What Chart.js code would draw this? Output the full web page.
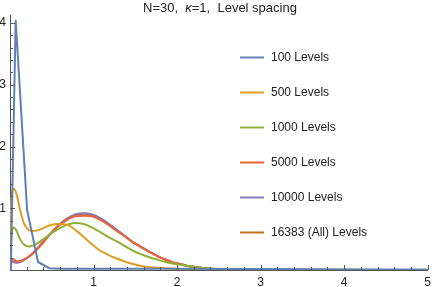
<!DOCTYPE html>
<html><head><meta charset="utf-8">
<script src="https://cdn.jsdelivr.net/npm/chart.js@4/dist/chart.umd.min.js"></script>
<style>html,body{margin:0;padding:0;background:#fff;}canvas{display:block;}</style>
</head><body>
<canvas id="c" width="436" height="287"></canvas>
<script>
const seriesLabels = ["100 Levels","500 Levels","1000 Levels","5000 Levels","10000 Levels","16383 (All) Levels"];
const seriesColors = ["#5E81B5","#E19C24","#8FB032","#EB6235","#8778B3","#C56E1A"];
const xTickLabels = ["1","2","3","4","5"];
const yTickLabels = ["1","2","3","4"];

const x100 = [0.01,0.068,0.205,0.336,0.47,0.6,1,2,3,4,5];
const y100 = [0.0,4.05,0.97,0.13,0.03,0.02,0.02,0.02,0.015,0.01,0.01];

const x500 = [0,0.015,0.047,0.08,0.12,0.16,0.2,0.257,0.35,0.45,0.55,0.65,0.72,0.8,0.87,0.97,1.07,1.17,1.27,1.37,1.46,1.56,1.66,1.86,2.06,2.4,3,5];
const y500 = [0.5,1.1,1.31,1.22,0.98,0.78,0.68,0.63,0.65,0.71,0.745,0.74,0.71,0.63,0.55,0.43,0.32,0.25,0.19,0.14,0.10,0.07,0.05,0.03,0.015,0.005,0,0];

const x1000 = [0,0.015,0.047,0.08,0.12,0.17,0.23,0.3,0.4,0.5,0.6,0.7,0.79,0.89,0.98,1.07,1.17,1.27,1.37,1.46,1.56,1.66,1.76,1.86,2.06,2.25,2.5,3,5];
const y1000 = [0.1,0.5,0.69,0.63,0.5,0.41,0.38,0.41,0.5,0.6,0.68,0.74,0.76,0.74,0.69,0.62,0.54,0.47,0.39,0.32,0.26,0.21,0.17,0.13,0.08,0.04,0.015,0.003,0];

const xWide = [0,0.03,0.08,0.15,0.24,0.35,0.47,0.57,0.67,0.78,0.89,0.98,1.07,1.17,1.27,1.37,1.46,1.56,1.66,1.76,1.86,1.96,2.06,2.15,2.25,2.4,2.6,3,5];
const y5000 = [0.12,0.18,0.14,0.16,0.23,0.37,0.56,0.70,0.80,0.87,0.88,0.87,0.82,0.74,0.64,0.55,0.46,0.38,0.30,0.23,0.17,0.12,0.09,0.06,0.04,0.02,0.01,0.003,0];
const y10000 = [0.10,0.14,0.12,0.15,0.23,0.38,0.57,0.71,0.82,0.90,0.92,0.90,0.85,0.76,0.66,0.56,0.46,0.38,0.30,0.23,0.17,0.12,0.09,0.06,0.04,0.02,0.01,0.003,0];
const y16383 = [0.10,0.13,0.12,0.15,0.23,0.38,0.57,0.71,0.82,0.89,0.91,0.89,0.84,0.75,0.65,0.55,0.46,0.38,0.30,0.23,0.17,0.12,0.09,0.06,0.04,0.02,0.01,0.003,0];

function pts(xs, ys){ return xs.map((x,i)=>({x:x,y:ys[i]})); }
const seriesData = [pts(x100,y100),pts(x500,y500),pts(x1000,y1000),pts(xWide,y5000),pts(xWide,y10000),pts(xWide,y16383)];

const FONT = "'Liberation Sans', Arial, sans-serif";
const AXIS_COLOR = "#555555";

const datasets = seriesData.map((d,i)=>({
  label: seriesLabels[i],
  data: d,
  borderColor: seriesColors[i],
  backgroundColor: seriesColors[i],
  borderWidth: 2,
  pointRadius: 0,
  fill: false,
  cubicInterpolationMode: i===0 ? 'default' : 'monotone',
  tension: i===0 ? 0 : 0.4
}));

const tickPlugin = {
  id: 'inwardTicks',
  afterDatasetsDraw(chart){
    const ctx = chart.ctx, xs = chart.scales.x, ys = chart.scales.y;
    const a = chart.chartArea;
    ctx.save();
    ctx.strokeStyle = AXIS_COLOR; ctx.lineWidth = 1;
    for (let k=1;k<=25;k++){
      const v = k*0.2; const px = Math.round(xs.getPixelForValue(v))+0.5;
      const major = Math.abs(v-Math.round(v))<1e-6;
      const len = major?5:3;
      ctx.beginPath(); ctx.moveTo(px,a.bottom); ctx.lineTo(px,a.bottom-len); ctx.stroke();
    }
    for (let k=1;k<=20;k++){
      const v = k*0.2; if (v>ys.max) break;
      const py = Math.round(ys.getPixelForValue(v))+0.5;
      const major = Math.abs(v-Math.round(v))<1e-6;
      const len = major?5:3;
      ctx.beginPath(); ctx.moveTo(a.left,py); ctx.lineTo(a.left+len,py); ctx.stroke();
    }
    ctx.restore();
  }
};

const titlePlugin = {
  id: 'richTitle',
  afterDraw(chart){
    const ctx = chart.ctx;
    ctx.save();
    ctx.fillStyle = "#222"; ctx.textBaseline = 'alphabetic';
    const parts = [["N=30,  ","normal"],["κ","italic"],["=1,  Level spacing","normal"]];
    let x = 143;
    for (const [t,st] of parts){
      ctx.font = st + " 13px " + FONT;
      ctx.fillText(t, x, 12);
      x += ctx.measureText(t).width;
    }
    ctx.restore();
  }
};

const legendPlugin = {
  id: 'sideLegend',
  afterDraw(chart){
    const ctx = chart.ctx;
    ctx.save();
    chart.data.datasets.forEach((ds,i)=>{
      const y = 57.5 + i*35;
      ctx.strokeStyle = ds.borderColor; ctx.lineWidth = 2;
      ctx.beginPath(); ctx.moveTo(240,y); ctx.lineTo(264,y); ctx.stroke();
      ctx.fillStyle = "#222"; ctx.font = "12px " + FONT; ctx.textBaseline = 'middle';
      ctx.fillText(ds.label, 271, y+0.5);
    });
    ctx.restore();
  }
};

new Chart(document.getElementById('c'), {
  type: 'line',
  data: { datasets },
  options: {
    responsive: false,
    devicePixelRatio: 1,
    animation: false,
    layout: { padding: { top: 15, right: 4, left: 0, bottom: 0 } },
    plugins: { legend: { display: false }, title: { display: false }, tooltip: { enabled: false } },
    scales: {
      x: {
        type: 'linear', min: 0, max: 5,
        grid: { display: false, drawTicks: false },
        border: { display: true, color: AXIS_COLOR, width: 1 },
        ticks: {
          stepSize: 1, includeBounds: false, padding: 5, maxRotation: 0,
          color: "#222", font: { family: FONT, size: 12 },
          callback: (v) => { const s = String(v); return xTickLabels.includes(s) ? s : ''; }
        },
        afterFit: (s) => { s.height = 17; }
      },
      y: {
        type: 'linear', min: 0, max: 4.13,
        grid: { display: false, drawTicks: false },
        border: { display: true, color: AXIS_COLOR, width: 1 },
        ticks: {
          stepSize: 1, includeBounds: false, padding: 4,
          color: "#222", font: { family: FONT, size: 12 },
          callback: (v) => { const s = String(v); return yTickLabels.includes(s) ? s : ''; }
        },
        afterFit: (s) => { s.width = 10; }
      }
    }
  },
  plugins: [tickPlugin, titlePlugin, legendPlugin]
});
</script>
</body></html>
